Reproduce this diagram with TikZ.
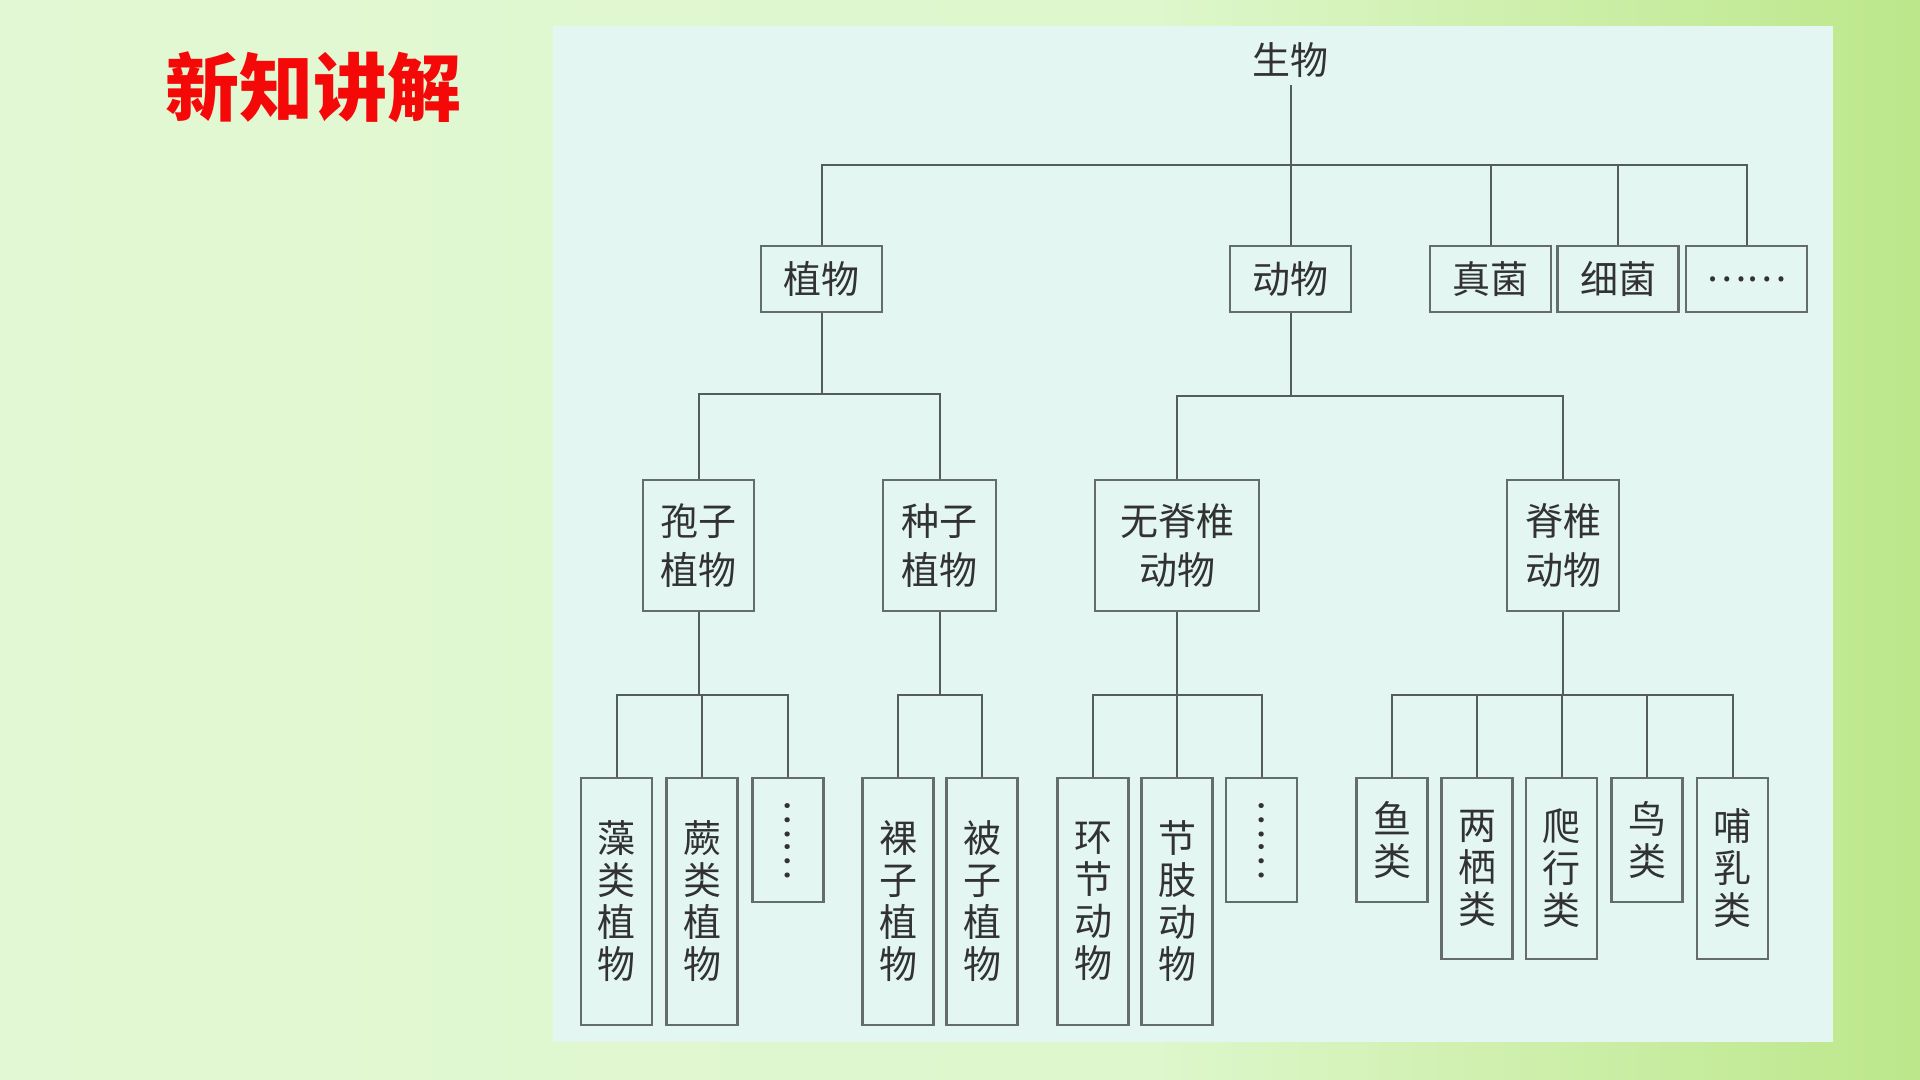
\documentclass[tikz,border=0pt]{standalone}
\usepackage{fontspec}
\newfontfamily\cjk{Noto Sans CJK SC}
\definecolor{bgL}{RGB}{226,248,212}
\definecolor{bgM}{RGB}{222,247,204}
\definecolor{bgR}{RGB}{188,231,138}
\definecolor{panelc}{RGB}{227,246,242}
\definecolor{linec}{RGB}{85,92,92}
\definecolor{boxc}{RGB}{100,108,108}
\definecolor{txt}{RGB}{50,50,50}
\definecolor{titlec}{RGB}{245,8,8}
\pgfdeclarehorizontalshading{bgshade}{100bp}{color(0bp)=(bgL); color(25bp)=(bgL); color(55bp)=(bgM); color(75bp)=(bgR); color(100bp)=(bgR)}
\begin{document}
\begin{tikzpicture}[x=0.5pt,y=-0.5pt,
  line/.style={draw=linec, line width=1pt},
  box/.style={draw=boxc, line width=1.1pt, inner sep=0pt, text=txt, align=center,
    font=\fontsize{19}{21}\selectfont\cjk},
  lvA/.style={box, minimum width=60.5pt, minimum height=33pt},
  lvB/.style={box, minimum height=65.5pt, font=\fontsize{19}{24.5}\selectfont\cjk},
  lvC/.style={box, minimum width=35.5pt},
]
\useasboundingbox (0,0) rectangle (1920,1080);
\shade[shading=bgshade] (0,0) rectangle (1920,1080);
\fill[panelc] (553,26) rectangle (1833,1042);

\node[font=\fontsize{37}{40}\selectfont\cjk\bfseries, text=titlec, inner sep=0pt] (title) at (313,87) {新知讲解};

% root
\node[inner sep=0pt, minimum height=25pt, text=txt, font=\fontsize{19}{21}\selectfont\cjk] (sw) at (1290.5,60) {生物};

% level 1
\node[lvA] (zw) at (821.5,279) {植物};
\node[lvA] (dw) at (1290.5,279) {动物};
\node[lvA] (zj) at (1490.5,279) {真菌};
\node[lvA] (xj) at (1618,279) {细菌};
\node[lvA] (d1) at (1746.5,279) {……};

% level 2
\node[lvB, minimum width=55.5pt] (bz) at (698.5,545.5) {孢子\\植物};
\node[lvB, minimum width=56.5pt] (zz) at (939.5,545.5) {种子\\植物};
\node[lvB, minimum width=82pt] (wj) at (1177,545.5) {无脊椎\\动物};
\node[lvB, minimum width=56pt] (jz) at (1563,545.5) {脊椎\\动物};

% level 3
\node[lvC, minimum height=123.5pt] (zl) at (616.5,901.5) {藻\\类\\植\\物};
\node[lvC, minimum height=123.5pt] (jl) at (702,901.5) {蕨\\类\\植\\物};
\node[lvC, minimum height=62pt] (d2) at (788,840) {\rotatebox[origin=c]{-90}{……}};
\node[lvC, minimum height=123.5pt] (lz) at (898,901.5) {裸\\子\\植\\物};
\node[lvC, minimum height=123.5pt] (bzz) at (982,901.5) {被\\子\\植\\物};
\node[lvC, minimum height=123.5pt] (hj) at (1093,901.5) {环\\节\\动\\物};
\node[lvC, minimum height=123.5pt] (jzd) at (1177,901.5) {节\\肢\\动\\物};
\node[lvC, minimum height=62pt] (d3) at (1261.5,840) {\rotatebox[origin=c]{-90}{……}};
\node[lvC, minimum height=62pt] (yl) at (1392,840) {鱼\\类};
\node[lvC, minimum height=90.5pt] (lq) at (1477,868.5) {两\\栖\\类};
\node[lvC, minimum height=90.5pt] (px) at (1561.5,868.5) {爬\\行\\类};
\node[lvC, minimum height=62pt] (nl) at (1647,840) {鸟\\类};
\node[lvC, minimum height=90.5pt] (br) at (1732.5,868.5) {哺\\乳\\类};

% buses
\coordinate (b0) at (0,164.6);
\coordinate (b1) at (0,394);
\coordinate (b2) at (0,396);
\coordinate (b3) at (0,694.5);

% root connectors
\draw[line] (sw.south) -- (dw.north);
\draw[line] (zw.north) |- (d1.north |- b0) -- (d1.north);
\draw[line] (zj.north) -- (zj.north |- b0);
\draw[line] (xj.north) -- (xj.north |- b0);

% plants
\draw[line] (zw.south) -- (zw.south |- b1);
\draw[line] (bz.north) |- (zz.north |- b1) -- (zz.north);

% animals
\draw[line] (dw.south) -- (dw.south |- b2);
\draw[line] (wj.north) |- (jz.north |- b2) -- (jz.north);

% spore plants
\draw[line] (bz.south) -- (bz.south |- b3);
\draw[line] (zl.north) |- (d2.north |- b3) -- (d2.north);
\draw[line] (jl.north) -- (jl.north |- b3);

% seed plants
\draw[line] (zz.south) -- (zz.south |- b3);
\draw[line] (lz.north) |- (bzz.north |- b3) -- (bzz.north);

% invertebrates
\draw[line] (wj.south) -- (wj.south |- b3);
\draw[line] (hj.north) |- (d3.north |- b3) -- (d3.north);
\draw[line] (jzd.north) -- (jzd.north |- b3);

% vertebrates
\draw[line] (jz.south) -- (jz.south |- b3);
\draw[line] (yl.north) |- (br.north |- b3) -- (br.north);
\draw[line] (lq.north) -- (lq.north |- b3);
\draw[line] (px.north) -- (px.north |- b3);
\draw[line] (nl.north) -- (nl.north |- b3);
\end{tikzpicture}
\end{document}
